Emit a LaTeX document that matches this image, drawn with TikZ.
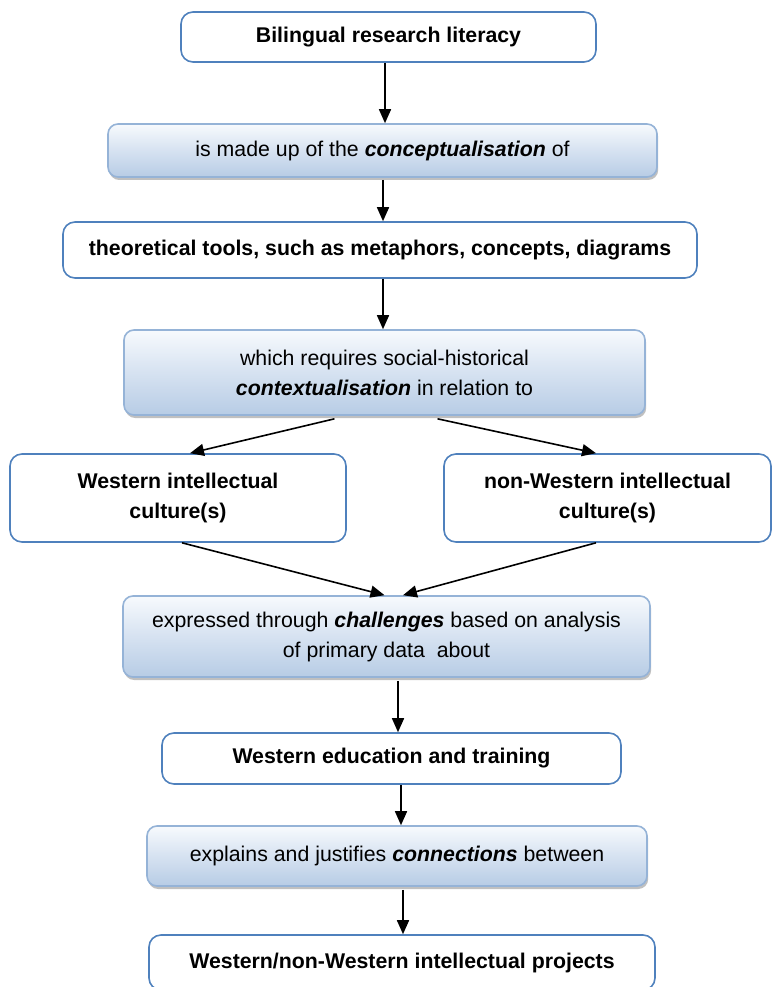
\documentclass[tikz,border=0pt]{standalone}
\usepackage{fontspec}
\setmainfont{Liberation Sans}
\usetikzlibrary{arrows.meta,shadows}

\definecolor{frameblue}{RGB}{79,129,189}
\definecolor{softframe}{RGB}{149,179,215}
\definecolor{shadetop}{RGB}{247,250,253}
\definecolor{shademid}{RGB}{214,226,241}
\definecolor{shadebot}{RGB}{183,204,229}

\tikzset{
  boxfont/.style={font=\fontsize{21.3}{30}\selectfont},
  plainbox/.style={boxfont, draw=frameblue, line width=1.6pt, rounded corners=12pt,
    fill=white, align=center, inner sep=0pt, execute at begin node=\bfseries},
  shadedbox/.style={boxfont, draw=softframe, line width=1.6pt, rounded corners=10pt,
    top color=shadetop, bottom color=shadebot, middle color=shademid,
    align=center, inner sep=0pt,
    drop shadow={shadow xshift=1.2pt, shadow yshift=-3pt, fill=black!45, opacity=0.55}},
  arr/.style={-{Triangle[length=14pt,width=12pt]}, line width=1.6pt, draw=black},
}
\newcommand{\keyword}[1]{\textbf{\textit{#1}}}

\begin{document}
\begin{tikzpicture}[x=1pt,y=-1pt]
  \useasboundingbox (0,0) rectangle (772,987);
  \clip (0,0) rectangle (772,987);

  % chain of boxes
  \node[plainbox, minimum width=415pt, minimum height=50pt] (b1) at (388.5,37)
    {Bilingual research literacy};
  \node[shadedbox, minimum width=549pt, minimum height=53pt] (b2) at (382.5,150.5)
    {is made up of the \keyword{conceptualisation} of};
  \node[plainbox, minimum width=634pt, minimum height=56pt] (b3) at (380,250)
    {theoretical tools, such as metaphors, concepts, diagrams};
  \node[shadedbox, minimum width=521pt, minimum height=85pt] (b4) at (384.5,372.5)
    {which requires social-historical\\ \keyword{contextualisation} in relation to};
  \node[plainbox, minimum width=336pt, minimum height=88pt] (b5) at (178,498)
    {Western intellectual\\ culture(s)};
  \node[plainbox, minimum width=327pt, minimum height=88pt] (b6) at (607.5,498)
    {non-Western intellectual\\ culture(s)};
  \node[shadedbox, minimum width=527pt, minimum height=81pt] (b7) at (386.5,636.5)
    {expressed through \keyword{challenges} based on analysis\\ of primary data\ \ about};
  \node[plainbox, minimum width=459pt, minimum height=51pt] (b8) at (391.5,758.5)
    {Western education and training};
  \node[shadedbox, minimum width=500pt, minimum height=60pt] (b9) at (397,856)
    {explains and justifies \keyword{connections} between};
  \node[plainbox, minimum width=506pt, minimum height=55pt] (b10) at (402,962.5)
    {Western/non-Western intellectual projects};

  % connectors
  \draw[arr] ([xshift=-3.5pt]b1.south) -- ([xshift=2.5pt]b2.north);
  \draw[arr] ([xshift=0.5pt,yshift=-2pt]b2.south) -- ([xshift=3pt]b3.north);
  \draw[arr] ([xshift=3pt]b3.south) -- ([xshift=-1.5pt]b4.north);
  \draw[arr] ([xshift=-50pt,yshift=-3pt]b4.south) -- ([xshift=12pt]b5.north);
  \draw[arr] ([xshift=53pt,yshift=-3pt]b4.south) -- ([xshift=-11.5pt]b6.north);
  \draw[arr] ([xshift=4pt]b5.south) -- ([xshift=-2pt]b7.north);
  \draw[arr] ([xshift=-11.5pt]b6.south) -- ([xshift=16.5pt]b7.north);
  \draw[arr] ([xshift=11.5pt,yshift=-3pt]b7.south) -- ([xshift=6.5pt]b8.north);
  \draw[arr] ([xshift=9.5pt]b8.south) -- ([xshift=4pt]b9.north);
  \draw[arr] ([xshift=6pt,yshift=-3pt]b9.south) -- ([xshift=1pt]b10.north);
\end{tikzpicture}
\end{document}
